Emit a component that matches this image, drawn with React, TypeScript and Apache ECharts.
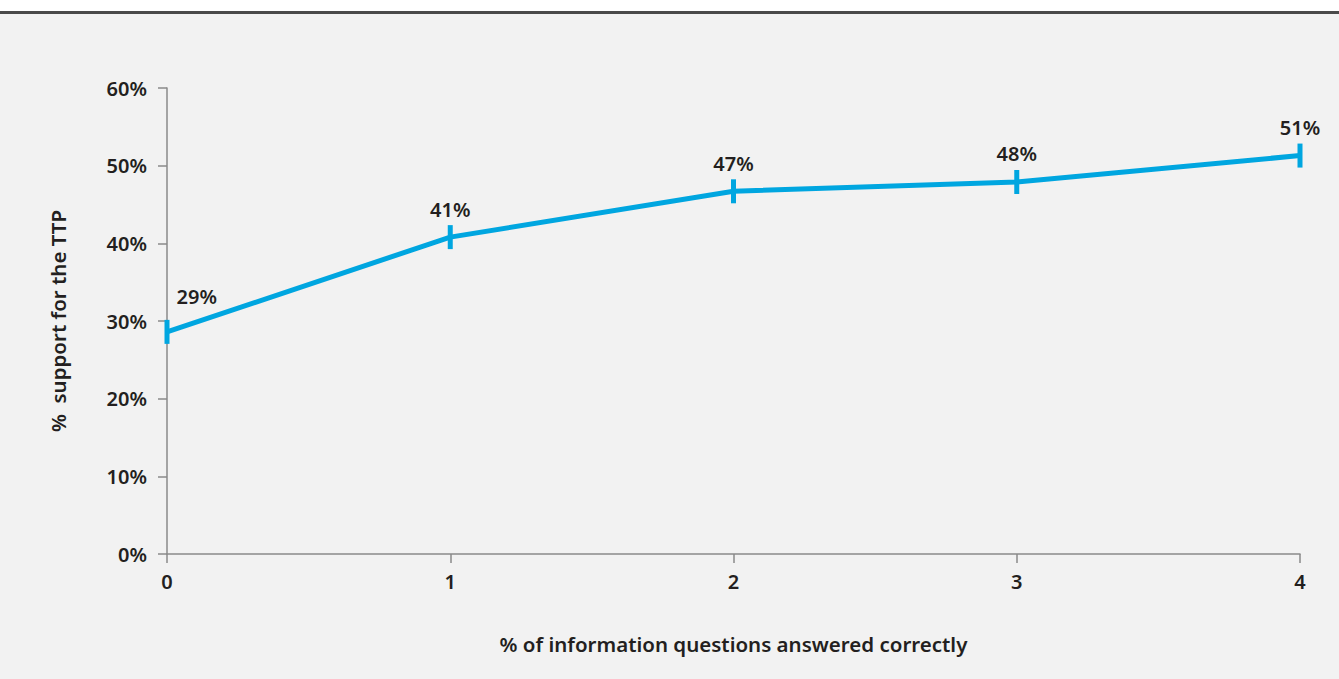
import React, { useEffect, useRef } from "react";
import * as echarts from "echarts";

const categories = ["0", "1", "2", "3", "4"];
const supportValues = [28.6, 40.8, 46.7, 47.9, 51.3];
const supportLabels = ["29%", "41%", "47%", "48%", "51%"];
const yTicks = [0, 10, 20, 30, 40, 50, 60];

const BLUE = "#00a6e0";
const TEXT = "#231f20";
const AXIS = "#8a8a8a";
const FONT = "'Noto Sans', 'Open Sans', sans-serif";

export default function App() {
  const ref = useRef<HTMLDivElement>(null);
  useEffect(() => {
    const chart = echarts.init(ref.current!, null, { renderer: "svg" });
    chart.setOption({
      animation: false,
      backgroundColor: "#ffffff",
      graphic: [
        { type: "rect", z: -10, shape: { x: 0, y: 13, width: 1339, height: 666 }, style: { fill: "#f2f2f2" } },
        { type: "rect", z: -9, shape: { x: 0, y: 11, width: 1339, height: 3 }, style: { fill: "#4a4a4a" } },
      ],
      grid: { left: 167, right: 39, top: 88, bottom: 125 },
      xAxis: {
        type: "value",
        min: 0,
        max: 4,
        interval: 1,
        axisLine: { show: true, lineStyle: { color: AXIS, width: 1.5 } },
        axisTick: { show: true, length: 9, lineStyle: { color: AXIS, width: 1.5 } },
        splitLine: { show: false },
        axisLabel: {
          color: TEXT,
          fontFamily: FONT,
          fontWeight: 600,
          fontSize: 20,
          margin: 17,
          formatter: (v: number) => categories[v] ?? "",
        },
        name: "% of information questions answered correctly",
        nameLocation: "middle",
        nameGap: 79,
        nameTextStyle: { color: TEXT, fontFamily: FONT, fontWeight: 600, fontSize: 20.5 },
      },
      yAxis: {
        type: "value",
        min: 0,
        max: 60,
        interval: 10,
        axisLine: { show: true, lineStyle: { color: AXIS, width: 1.5 } },
        axisTick: { show: true, length: 9, lineStyle: { color: AXIS, width: 1.5 } },
        splitLine: { show: false },
        axisLabel: {
          color: TEXT,
          fontFamily: FONT,
          fontWeight: 600,
          fontSize: 20,
          margin: 20,
          formatter: (v: number) => (yTicks.includes(v) ? v + "%" : ""),
        },
        name: "%  support for the TTP",
        nameLocation: "middle",
        nameGap: 99,
        nameTextStyle: { color: TEXT, fontFamily: FONT, fontWeight: 600, fontSize: 20.5 },
      },
      series: [
        {
          type: "line",
          data: supportValues.map((v, i) => ({
            value: [i, v],
            label:
              i === 0
                ? { position: "right", offset: [2, -35] }
                : { position: "top", distance: 6 },
          })),
          lineStyle: { color: BLUE, width: 5 },
          itemStyle: { color: BLUE },
          symbol: "rect",
          symbolSize: [5, 24],
          showSymbol: true,
          label: {
            show: true,
            color: TEXT,
            fontFamily: FONT,
            fontWeight: 600,
            fontSize: 20,
            formatter: (p: any) => supportLabels[p.dataIndex],
          },
        },
      ],
    });
    return () => chart.dispose();
  }, []);
  return (
    <div
      ref={ref}
      style={{ position: "absolute", left: 0, top: 0, width: 1339, height: 679 }}
    />
  );
}
